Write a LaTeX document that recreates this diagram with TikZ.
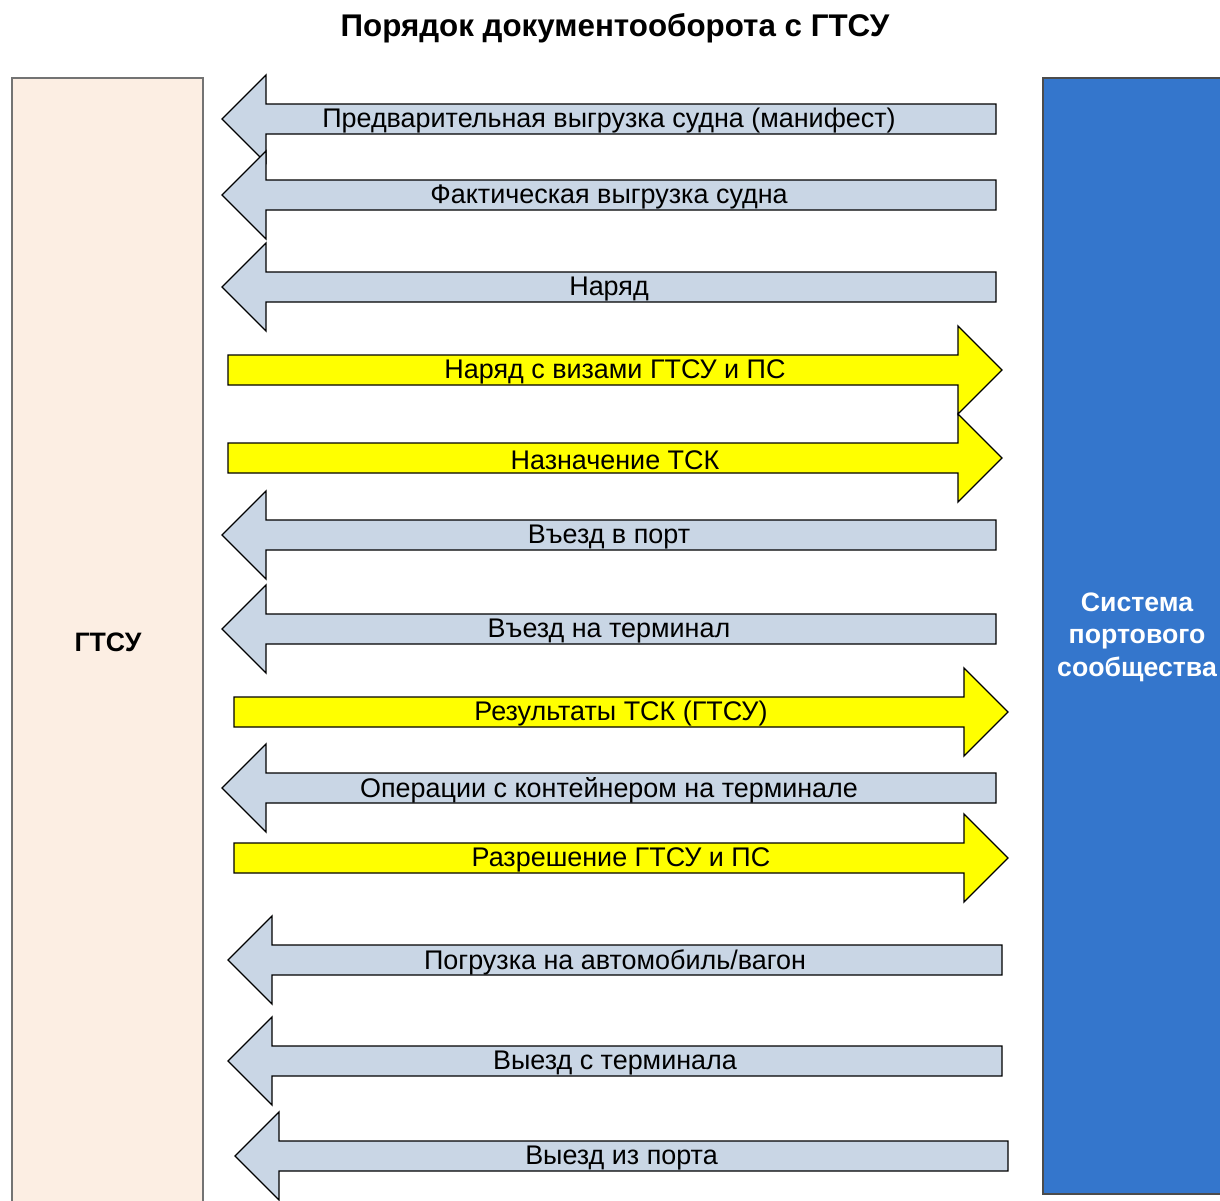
\documentclass[tikz,border=0pt]{standalone}
\usepackage{fontspec}
\setmainfont{Liberation Sans}
\usetikzlibrary{positioning}

\definecolor{gtsufill}{HTML}{FCEEE3}
\definecolor{portfill}{HTML}{3476CC}
\definecolor{backfill}{HTML}{C9D6E5}
\definecolor{fwdfill}{HTML}{FFFF00}

\tikzset{
  blockarrow/.style={draw=black, line width=1pt, line join=miter},
  arrowtext/.style={font=\fontsize{20.2}{24}\selectfont, inner sep=0pt},
  sidebox/.style={line width=1pt, minimum height=846pt, inner sep=0pt},
}

% left arrow: name, tip x, tail x, centre y, text
\newcommand{\backarrow}[5]{%
  \draw[blockarrow, fill=backfill] (#2,#4) -- ({#2+44},{#4-44}) -- ({#2+44},{#4-15})
    -- (#3,{#4-15}) -- (#3,{#4+15}) -- ({#2+44},{#4+15}) -- ({#2+44},{#4+44}) -- cycle;
  \node[arrowtext] (#1) at ({(#2+#3)/2},{#4+2}) {#5};
}
% right arrow: name, tail x, tip x, centre y, text
\newcommand{\fwdarrow}[5]{%
  \draw[blockarrow, fill=fwdfill] (#2,{#4-15}) -- ({#3-44},{#4-15}) -- ({#3-44},{#4-44})
    -- (#3,#4) -- ({#3-44},{#4+44}) -- ({#3-44},{#4+15}) -- (#2,{#4+15}) -- cycle;
  \node[arrowtext] (#1) at ({(#2+#3)/2},{#4+2}) {#5};
}

\begin{document}
\begin{tikzpicture}[x=0.75pt, y=-0.75pt]
  \useasboundingbox (0,0) rectangle (1220,1200);

  % title
  \node[font=\bfseries\fontsize{23.5}{26}\selectfont] (title) at (615,28) {Порядок документооборота с ГТСУ};

  % the two sides
  \draw[sidebox, draw=black!55, fill=gtsufill] (12,78) rectangle (203,1206);
  \node[font=\bfseries\fontsize{20}{24}\selectfont] (gtsu) at (108,642) {ГТСУ};
  \draw[sidebox, draw=black!70, fill=portfill] (1043,78) rectangle (1232,1194);
  \node[font=\bfseries\fontsize{20}{24.4}\selectfont, text=white, align=center] (pcs) at (1137,637)
    {Система\\портового\\сообщества};

  % messages
  \backarrow{m1}{222}{996}{119}{Предварительная выгрузка судна (манифест)}
  \backarrow{m2}{222}{996}{195}{Фактическая выгрузка судна}
  \backarrow{m3}{222}{996}{287}{Наряд}
  \fwdarrow{m4}{228}{1002}{370}{Наряд с визами ГТСУ и ПС}
  \fwdarrow{m5}{228}{1002}{458}{Назначение ТСК}
  \backarrow{m6}{222}{996}{535}{Въезд в порт}
  \backarrow{m7}{222}{996}{629}{Въезд на терминал}
  \fwdarrow{m8}{234}{1008}{712}{Результаты ТСК (ГТСУ)}
  \backarrow{m9}{222}{996}{788}{Операции с контейнером на терминале}
  \fwdarrow{m10}{234}{1008}{858}{Разрешение ГТСУ и ПС}
  \backarrow{m11}{228}{1002}{960}{Погрузка на автомобиль/вагон}
  \backarrow{m12}{228}{1002}{1061}{Выезд с терминала}
  \backarrow{m13}{235}{1008}{1156}{Выезд из порта}
\end{tikzpicture}
\end{document}
